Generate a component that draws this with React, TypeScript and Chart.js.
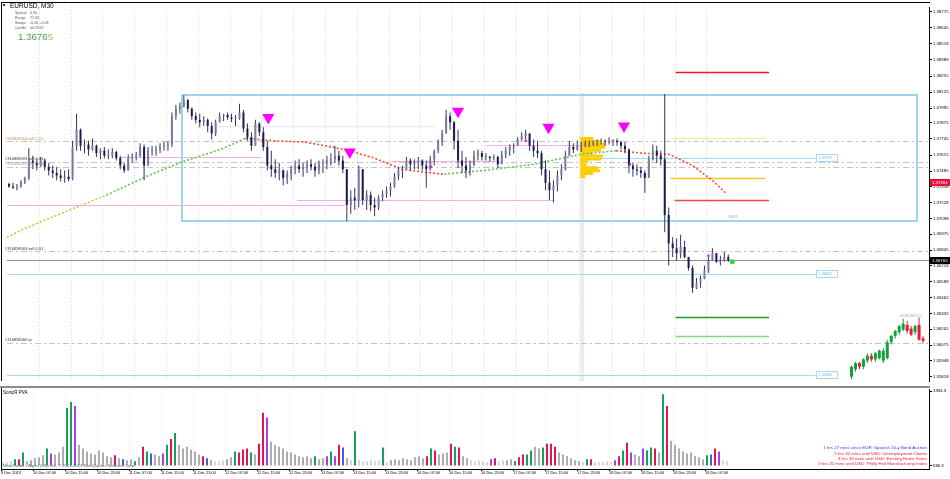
import React, { useEffect, useRef } from 'react';
import { Chart, registerables } from 'chart.js';

Chart.register(...registerables);

const FONT = '"Liberation Sans", Arial, sans-serif';

// ---------------- data ----------------
const xLabels = ['9 Dec 2013', '10 Dec 07:00', '10 Dec 15:00', '10 Dec 23:00', '11 Dec 07:00', '11 Dec 15:00', '11 Dec 23:00', '12 Dec 07:00', '12 Dec 15:00', '12 Dec 23:00', '13 Dec 07:00', '13 Dec 15:00', '13 Dec 23:00', '16 Dec 07:00', '16 Dec 15:00', '16 Dec 23:00', '17 Dec 07:00', '17 Dec 15:00', '17 Dec 23:00', '18 Dec 07:00', '18 Dec 15:00', '18 Dec 23:00', '19 Dec 07:00'];
const xLabelHours = [0, 8, 16, 24, 32, 40, 48, 56, 64, 72, 80, 88, 96, 104, 112, 120, 128, 136, 144, 152, 160, 168, 176];

const priceTicks = [1.38775, 1.38645, 1.38518, 1.38388, 1.38255, 1.38125, 1.37995, 1.37875, 1.37745, 1.37615, 1.37485, 1.37358, 1.37228, 1.37098, 1.36975, 1.36845, 1.36718, 1.36588, 1.36462, 1.36332, 1.36205, 1.36075, 1.35948, 1.35818];
const PRICE_MAX = 1.38814;
const PRICE_MIN = 1.35785;

const firstOpen = 1.3738;
const candleHigh = [
  1.3739, 1.3739, 1.3738, 1.3741, 1.3744, 1.3767, 1.3761, 1.3758, 1.3760, 1.3759,
  1.3755, 1.3753, 1.3752, 1.3750, 1.3749, 1.3750, 1.3773, 1.3795, 1.3783, 1.3774,
  1.3773, 1.3775, 1.3770, 1.3767, 1.3768, 1.3766, 1.3767, 1.3765, 1.3761, 1.3755,
  1.3762, 1.3763, 1.3764, 1.3771, 1.3770, 1.3768, 1.3769, 1.3769, 1.3771, 1.3772,
  1.3773, 1.3796, 1.3802, 1.3804, 1.3810, 1.3807, 1.3800, 1.3796, 1.3795, 1.3793,
  1.3791, 1.3788, 1.3790, 1.3796, 1.3795, 1.3796, 1.3795, 1.3794, 1.3803, 1.3798,
  1.3787, 1.3780, 1.3790, 1.3788, 1.3784, 1.3773, 1.3765, 1.3758, 1.3755, 1.3750,
  1.3749, 1.3753, 1.3757, 1.3758, 1.3755, 1.3757, 1.3758, 1.3755, 1.3757, 1.3758,
  1.3761, 1.3763, 1.3769, 1.3765, 1.3761, 1.3750, 1.3733, 1.3735, 1.3753, 1.3750,
  1.3733, 1.3732, 1.3727, 1.3729, 1.3733, 1.3736, 1.3739, 1.3747, 1.3752, 1.3753,
  1.3760, 1.3759, 1.3758, 1.3760, 1.3758, 1.3757, 1.3761, 1.3766, 1.3774, 1.3782,
  1.3798, 1.3796, 1.3789, 1.3782, 1.3765, 1.3760, 1.3757, 1.3765, 1.3766, 1.3765,
  1.3763, 1.3761, 1.3762, 1.3761, 1.3765, 1.3768, 1.3770, 1.3771, 1.3776, 1.3780,
  1.3782, 1.3779, 1.3774, 1.3773, 1.3765, 1.3757, 1.3749, 1.3741, 1.3749, 1.3754,
  1.3765, 1.3773, 1.3771, 1.3773, 1.3772, 1.3773, 1.3773, 1.3773, 1.3774, 1.3775,
  1.3774, 1.3776, 1.3774, 1.3775, 1.3773, 1.3772, 1.3767, 1.3755, 1.3754, 1.3752,
  1.3749, 1.3761, 1.3770, 1.3769, 1.3765, 1.3811, 1.3719, 1.3695, 1.3694, 1.3697,
  1.3692, 1.3679, 1.3672, 1.3662, 1.3664, 1.3672, 1.3679, 1.3686, 1.3682, 1.3680,
  1.3683, 1.3681,
];
const candleLow = [
  1.3735, 1.3734, 1.3733, 1.3735, 1.3738, 1.3741, 1.3750, 1.3749, 1.3752, 1.3749,
  1.3745, 1.3743, 1.3741, 1.3740, 1.3739, 1.3740, 1.3741, 1.3765, 1.3765, 1.3763,
  1.3761, 1.3765, 1.3760, 1.3758, 1.3759, 1.3758, 1.3759, 1.3757, 1.3750, 1.3747,
  1.3749, 1.3755, 1.3757, 1.3760, 1.3741, 1.3753, 1.3761, 1.3761, 1.3763, 1.3765,
  1.3765, 1.3768, 1.3790, 1.3795, 1.3800, 1.3796, 1.3790, 1.3787, 1.3784, 1.3785,
  1.3780, 1.3774, 1.3777, 1.3788, 1.3789, 1.3790, 1.3788, 1.3785, 1.3790, 1.3780,
  1.3773, 1.3765, 1.3769, 1.3777, 1.3765, 1.3749, 1.3744, 1.3743, 1.3741, 1.3737,
  1.3738, 1.3741, 1.3746, 1.3747, 1.3744, 1.3747, 1.3749, 1.3744, 1.3746, 1.3747,
  1.3750, 1.3753, 1.3755, 1.3753, 1.3747, 1.3708, 1.3714, 1.3717, 1.3719, 1.3721,
  1.3717, 1.3716, 1.3712, 1.3717, 1.3724, 1.3727, 1.3728, 1.3735, 1.3741, 1.3743,
  1.3750, 1.3749, 1.3750, 1.3750, 1.3749, 1.3735, 1.3749, 1.3753, 1.3763, 1.3769,
  1.3779, 1.3782, 1.3766, 1.3751, 1.3747, 1.3743, 1.3745, 1.3753, 1.3757, 1.3757,
  1.3757, 1.3756, 1.3757, 1.3751, 1.3755, 1.3759, 1.3761, 1.3763, 1.3769, 1.3773,
  1.3774, 1.3765, 1.3760, 1.3759, 1.3745, 1.3733, 1.3725, 1.3723, 1.3732, 1.3741,
  1.3749, 1.3761, 1.3763, 1.3765, 1.3764, 1.3768, 1.3768, 1.3769, 1.3769, 1.3770,
  1.3769, 1.3770, 1.3769, 1.3769, 1.3766, 1.3763, 1.3747, 1.3744, 1.3745, 1.3743,
  1.3731, 1.3743, 1.3757, 1.3755, 1.3753, 1.3699, 1.3672, 1.3679, 1.3676, 1.3678,
  1.3678, 1.3668, 1.3650, 1.3653, 1.3654, 1.3661, 1.3666, 1.3676, 1.3674, 1.3672,
  1.3675, 1.3675,
];
const candleClose = [
  1.3736, 1.3735, 1.3736, 1.3740, 1.3743, 1.3757, 1.3755, 1.3753, 1.3757, 1.3752,
  1.3749, 1.3747, 1.3745, 1.3743, 1.3744, 1.3742, 1.3768, 1.3782, 1.3769, 1.3770,
  1.3766, 1.3769, 1.3763, 1.3765, 1.3761, 1.3761, 1.3764, 1.3759, 1.3753, 1.3749,
  1.3759, 1.3760, 1.3761, 1.3768, 1.3753, 1.3765, 1.3765, 1.3766, 1.3768, 1.3769,
  1.3770, 1.3793, 1.3799, 1.3801, 1.3806, 1.3799, 1.3793, 1.3790, 1.3788, 1.3790,
  1.3785, 1.3779, 1.3788, 1.3793, 1.3794, 1.3792, 1.3791, 1.3791, 1.3796, 1.3783,
  1.3776, 1.3769, 1.3787, 1.3780, 1.3768, 1.3753, 1.3750, 1.3747, 1.3749, 1.3743,
  1.3746, 1.3750, 1.3753, 1.3750, 1.3752, 1.3754, 1.3752, 1.3749, 1.3754, 1.3755,
  1.3757, 1.3758, 1.3761, 1.3757, 1.3750, 1.3721, 1.3727, 1.3725, 1.3750, 1.3725,
  1.3729, 1.3721, 1.3719, 1.3727, 1.3730, 1.3733, 1.3736, 1.3744, 1.3749, 1.3750,
  1.3757, 1.3754, 1.3755, 1.3757, 1.3753, 1.3750, 1.3758, 1.3765, 1.3773, 1.3779,
  1.3793, 1.3788, 1.3773, 1.3757, 1.3753, 1.3749, 1.3753, 1.3761, 1.3763, 1.3760,
  1.3760, 1.3759, 1.3760, 1.3754, 1.3762, 1.3765, 1.3768, 1.3769, 1.3774, 1.3777,
  1.3779, 1.3769, 1.3765, 1.3763, 1.3750, 1.3739, 1.3733, 1.3737, 1.3745, 1.3750,
  1.3761, 1.3768, 1.3766, 1.3769, 1.3769, 1.3770, 1.3771, 1.3772, 1.3773, 1.3773,
  1.3772, 1.3773, 1.3773, 1.3772, 1.3769, 1.3766, 1.3753, 1.3750, 1.3749, 1.3747,
  1.3743, 1.3758, 1.3765, 1.3761, 1.3758, 1.3713, 1.3690, 1.3686, 1.3682, 1.3687,
  1.3679, 1.3670, 1.3654, 1.3658, 1.3661, 1.3668, 1.3676, 1.3682, 1.3675, 1.3676,
  1.3679, 1.3676,
];

const volumeValues = [
  72, 72, 90, 126, 126, 252, 90, 108, 144, 162,
  198, 324, 234, 216, 252, 360, 1080, 1188, 1116, 396,
  324, 270, 234, 216, 288, 252, 180, 162, 198, 144,
  126, 108, 126, 90, 162, 360, 270, 234, 216, 180,
  234, 396, 504, 612, 396, 324, 360, 306, 270, 216,
  180, 144, 108, 90, 90, 108, 126, 162, 270, 252,
  306, 324, 252, 216, 414, 990, 900, 450, 396, 360,
  324, 270, 252, 216, 180, 162, 180, 144, 180, 126,
  144, 180, 270, 180, 396, 342, 144, 108, 648, 108,
  90, 90, 108, 90, 108, 342, 72, 108, 126, 108,
  144, 126, 108, 162, 180, 144, 180, 324, 288, 216,
  234, 252, 414, 360, 342, 180, 144, 108, 90, 108,
  90, 72, 126, 144, 90, 108, 108, 126, 90, 162,
  216, 216, 288, 360, 324, 342, 414, 414, 360, 252,
  216, 180, 144, 108, 90, 72, 126, 126, 72, 72,
  72, 90, 72, 108, 180, 288, 432, 252, 216, 180,
  324, 288, 342, 324, 252, 1332, 1116, 468, 396, 324,
  270, 234, 252, 180, 162, 126, 198, 216, 324, 270,
  108, 90,
];
// l = low volume, g = average, G = climax bull, R = climax bear, B = rising bull, P = rising bear
const volumeClass = (
  'lllGRGgggg' + 'gGPgggGGPg' + 'ggggggggRg' + 'BggGgRGBgg' + 'PGRGgggggg' +
  'RBglllggGR' + 'RRGgRRPggg' + 'ggggggggGg' + 'gPGPRBglGl' + 'lllllGlggg' +
  'ggggggRGRg' + 'ggRGRgglll' + 'llPRllggGR' + 'RGGggGRRRg' + 'ggggglGRll' +
  'lllPRGRPgg' + 'PGGRgGRggg' + 'ggggggGBRP' + 'll'
).split('');
const volAxisTicks = [1394.3, 0];
const volAxisLabels = ['1394.3', '696.3'];

const maBars = [0, 4.5, 15, 25, 35, 45, 53.75, 60, 67.5, 75, 85, 92.5, 99.25, 106.75, 110, 120, 132.5, 144.25, 153.25, 160, 166.75, 172.5, 177.5, 180.75];
const maValues = [1.3695, 1.3702, 1.3716, 1.3729, 1.3744, 1.3757, 1.3766, 1.3775, 1.3773, 1.3772, 1.3766, 1.3759, 1.3750, 1.3747, 1.3746, 1.3749, 1.3754, 1.3762, 1.3765, 1.3763, 1.3762, 1.3753, 1.3741, 1.3731];

const arrowBars = [65.75, 86.25, 113.5, 136.25, 155.25];
const arrowPrices = [1.3792, 1.3764, 1.3797, 1.3784, 1.3785];
const dotBars = [106.75, 130.5, 156.75, 176.5];
const dotPrices = [1.3752, 1.3773, 1.3754, 1.3680];
const lastTickBar = 182.5;
const lastTickPrice = 1.3675;

const miniBars = [212, 213, 214, 215, 216, 217, 218, 219, 220, 221, 222, 223, 224, 225, 226, 227, 228, 229, 230];
const miniOpen = [1.3582, 1.3588, 1.3593, 1.3590, 1.3595, 1.3599, 1.3596, 1.3597, 1.3595, 1.3597, 1.3610, 1.3615, 1.3618, 1.3620, 1.3624, 1.3621, 1.3618, 1.3624, 1.3613];
const miniClose = [1.3590, 1.3593, 1.3590, 1.3596, 1.3599, 1.3596, 1.3601, 1.3603, 1.3603, 1.3610, 1.3615, 1.3619, 1.3623, 1.3625, 1.3619, 1.3616, 1.3623, 1.3612, 1.3611];
const miniHigh = [1.3591, 1.3594, 1.3594, 1.3597, 1.3601, 1.3601, 1.3602, 1.3604, 1.3605, 1.3612, 1.3616, 1.3620, 1.3624, 1.3629, 1.3627, 1.3623, 1.3624, 1.3630, 1.3615];
const miniLow = [1.3580, 1.3586, 1.3588, 1.3588, 1.3593, 1.3594, 1.3594, 1.3596, 1.3593, 1.3596, 1.3608, 1.3613, 1.3616, 1.3619, 1.3617, 1.3615, 1.3616, 1.3611, 1.3609];
const miniLabel = { bar: 224.75, price: 1.3631, text: 'EURUSD,D1' };

const rangeBoxBars = [44, 229];
const rangeBoxPrices = [1.3810, 1.3708];

const targetPrices = [1.3829, 1.3775, 1.3743, 1.3725, 1.3630, 1.3615];
const targetFrom = [168.25, 167, 167, 168, 168.25, 168.25];
const targetTo = [191.75, 190.75, 190.75, 191.75, 191.75, 191.75];
const targetKinds = ['stopHigh', 'zoneHigh', 'zoneMid', 'stopLow', 'tp1', 'tp2'];

const orderPrices = [1.37725, 1.3756, 1.3752, 1.36834, 1.36092];
const orderLabels = ['#316858063 sell 0.01', '#316858093 sell 0.01', '#316858090 sell 0.01', '#316858063 sell 0.01', '#316858060 tp'];

const srPrices = [1.37852, 1.37599, 1.37568, 1.37694, 1.37252, 1.37213];
const srFrom = [53, 28.25, 96.75, 120.5, 73, 0];
const srTo = [107.5, 64, 123.25, 150, 137.5, 85];
const srKinds = ['minor', 'major', 'major', 'major', 'major', 'major'];

const pivotPrices = [1.37591, 1.36652, 1.35832];
const pivotFrom = [144.25, 0, 0];
const pivotTo = 203.5;

const profileStart = 144.25;
const profileLevels = [1.37749, 1.37725, 1.37702, 1.37678, 1.37654, 1.37631, 1.37607, 1.37583, 1.3756, 1.37536, 1.37512, 1.37489, 1.37465, 1.37441];
const profileVolumes = [13, 21, 25, 25, 21, 13, 23, 21, 8, 6, 18, 20, 13, 5];

const bidPrice = 1.36765;
const alertPrice = 1.37394;
const sessionLabel = { bar: 181.5, price: 1.3711, text: '18:41' };

const infoLabels = ['Spread', 'Range', 'Swaps', 'Candle'];
const infoValues = ['0.90', '77.45', '-0.20, -0.28', '00:23:07'];

const newsLines = ['1 hrs 27 mins since EUR: Spanish 10-y Bond Auction', '2 hrs 32 mins until USD: Unemployment Claims', '3 hrs 32 mins until USD: Existing Home Sales', '3 hrs 32 mins until USD: Philly Fed Manufacturing Index'];
const newsPast = [true, false, false, false];

// ---------------- styles ----------------
const UP = '#7c7c9c';
const DOWN = '#1b1b4c';
const WICK = '#33335f';
const VOL_COLORS: any = { l: '#d6d6d6', g: '#adadad', G: '#17a05a', R: '#e3154e', B: '#3f5fe0', P: '#a53ff0' };
const TARGET_COLORS: any = { stopHigh: '#ee1c1c', zoneHigh: '#f3eab0', zoneMid: '#f5c518', stopLow: '#f04646', tp1: '#1e9e1e', tp2: '#86d486' };

const opens = candleClose.map((c, i) => (i === 0 ? firstOpen : candleClose[i - 1]));
const candleColors = candleClose.map((c, i) => (c >= opens[i] ? UP : DOWN));
const miniColors = miniClose.map((c, i) => (c >= miniOpen[i] ? '#13a03c' : '#e8183c'));

const maColor = (ctx: any) => {
  const dx = ctx.p1.parsed.x - ctx.p0.parsed.x;
  const r = (ctx.p1.parsed.y - ctx.p0.parsed.y) / dx;
  if (r > 0.00001) return ctx.p0.parsed.x < 20 ? '#b2d030' : '#5cc84a';
  if (r < -0.00001) return '#ff4a2a';
  return '#c8c8c8';
};

function hLine(ctx: any, x0: number, x1: number, y: number) {
  const yy = Math.round(y) + 0.5;
  ctx.beginPath();
  ctx.moveTo(x0, yy);
  ctx.lineTo(x1, yy);
  ctx.stroke();
}

const mainDecor = {
  id: 'mainDecor',
  beforeDatasetsDraw(chart: any) {
    const { ctx, chartArea: a, scales } = chart;
    const X = (v: number) => scales.x.getPixelForValue(v);
    const Y = (v: number) => scales.y.getPixelForValue(v);
    ctx.save();
    ctx.beginPath();
    ctx.rect(a.left, a.top, a.right - a.left, a.bottom - a.top);
    ctx.clip();

    // vertical dotted grid
    ctx.strokeStyle = '#dadada';
    ctx.lineWidth = 1;
    ctx.setLineDash([1, 2]);
    xLabelHours.forEach((h, i) => {
      if (i === 0) return;
      const px = Math.round(X(h)) + 0.5;
      ctx.beginPath();
      ctx.moveTo(px, a.top);
      ctx.lineTo(px, a.bottom);
      ctx.stroke();
    });
    ctx.setLineDash([]);

    // profile band
    ctx.fillStyle = '#ececec';
    ctx.fillRect(X(profileStart), Y(1.3812), 4, a.bottom - Y(1.3812));

    // order lines (dash-dot)
    ctx.strokeStyle = '#c4c4c4';
    ctx.setLineDash([6, 3, 2, 3]);
    orderPrices.forEach((p) => hLine(ctx, a.left, a.right, Y(p)));
    ctx.setLineDash([]);

    // support/resistance pink
    srPrices.forEach((p, i) => {
      ctx.strokeStyle = srKinds[i] === 'minor' ? '#f9dcf3' : '#f2aeea';
      hLine(ctx, X(srFrom[i]), X(srTo[i]), Y(p));
    });

    // pivot light blue
    ctx.strokeStyle = '#a8d8f0';
    pivotPrices.forEach((p, i) => hLine(ctx, X(pivotFrom[i]), X(pivotTo), Y(p)));

    // bid line
    ctx.strokeStyle = '#8c8c8c';
    hLine(ctx, a.left, a.right, Y(bidPrice));

    // range box
    ctx.strokeStyle = '#9fd3ef';
    ctx.lineWidth = 2;
    const bx0 = X(rangeBoxBars[0]);
    const bx1 = X(rangeBoxBars[1]);
    const by0 = Y(rangeBoxPrices[0]);
    const by1 = Y(rangeBoxPrices[1]);
    ctx.strokeRect(Math.round(bx0), Math.round(by0), Math.round(bx1 - bx0), Math.round(by1 - by0));
    ctx.lineWidth = 1;

    // target lines
    targetPrices.forEach((p, i) => {
      ctx.strokeStyle = TARGET_COLORS[targetKinds[i]];
      ctx.lineWidth = 1.6;
      ctx.beginPath();
      ctx.moveTo(X(targetFrom[i]), Math.round(Y(p)) + 0.5);
      ctx.lineTo(X(targetTo[i]), Math.round(Y(p)) + 0.5);
      ctx.stroke();
    });
    ctx.lineWidth = 1;

    // volume profile
    ctx.fillStyle = '#ffcc00';
    profileLevels.forEach((lv, i) => {
      const y0 = Y(lv + 0.000119);
      const y1 = Y(lv - 0.000119);
      const x0 = X(profileStart);
      const x1 = X(profileStart + profileVolumes[i] / 4);
      ctx.fillRect(x0, y0, x1 - x0, y1 - y0);
    });
    ctx.restore();
  },
  afterDraw(chart: any) {
    const { ctx, chartArea: a, scales } = chart;
    const X = (v: number) => scales.x.getPixelForValue(v);
    const Y = (v: number) => scales.y.getPixelForValue(v);
    ctx.save();
    ctx.textBaseline = 'middle';

    // order labels
    ctx.font = `4px ${FONT}`;
    orderLabels.forEach((t, i) => {
      ctx.fillStyle = i === 0 ? '#c98a4c' : i === 2 ? '#9a9a9a' : '#303030';
      ctx.fillText(t, 5, Y(orderPrices[i]) - 3);
    });

    // pivot label boxes
    ctx.font = `3.8px ${FONT}`;
    pivotPrices.forEach((p) => {
      const x0 = Math.round(X(pivotTo)) + 0.5;
      const y = Math.round(Y(p));
      ctx.fillStyle = '#ffffff';
      ctx.fillRect(x0, y - 3.5, 21, 7);
      ctx.strokeStyle = '#a8d8f0';
      ctx.strokeRect(x0, y - 3.5, 21, 7);
      ctx.fillStyle = '#6cb4e0';
      ctx.fillText(p.toFixed(5), x0 + 2, y);
    });

    // session time label
    ctx.fillStyle = '#9a9a9a';
    ctx.fillText(sessionLabel.text, X(sessionLabel.bar), Y(sessionLabel.price));
    ctx.fillStyle = '#a8a8a8';
    ctx.fillText(miniLabel.text, X(miniLabel.bar), Y(miniLabel.price));

    // top-left info
    ctx.fillStyle = '#333';
    ctx.fillRect(3, 4, 2, 2);
    ctx.font = `6.5px ${FONT}`;
    ctx.fillStyle = '#000';
    ctx.fillText('EURUSD, M30', 10, 6.5);
    ctx.font = `3.6px ${FONT}`;
    ctx.fillStyle = '#555';
    infoLabels.forEach((t, i) => {
      ctx.fillText(t, 15, 13 + 5 * i);
      ctx.fillText(infoValues[i], 30, 13 + 5 * i);
    });
    const bidText = bidPrice.toFixed(5);
    ctx.font = `9.7px ${FONT}`;
    ctx.fillStyle = '#47a447';
    const head = bidText.slice(0, -1);
    ctx.fillText(head, 18, 37.5);
    const w = ctx.measureText(head).width;
    ctx.fillStyle = '#8fcf6f';
    ctx.fillText(bidText.slice(-1), 18 + w, 37.5);

    // axis price boxes
    ctx.font = `4.3px ${FONT}`;
    const boxes = [
      { p: alertPrice, bg: '#e8103c' },
      { p: bidPrice, bg: '#000000' },
    ];
    boxes.forEach((b) => {
      const y = Math.round(Y(b.p));
      ctx.fillStyle = b.bg;
      ctx.fillRect(930, y - 3, 20, 7);
      ctx.fillStyle = '#ffffff';
      ctx.fillText(b.p.toFixed(5), 932, y + 0.5);
    });

    // frame
    ctx.fillStyle = '#000';
    ctx.fillRect(1, 2, 1, a.bottom - 2);
    ctx.fillRect(1, 2, 929, 1);
    ctx.fillStyle = '#8c8c8c';
    ctx.fillRect(0, 386, 930, 2);
    ctx.restore();
  },
};

const volDecor = {
  id: 'volDecor',
  beforeDatasetsDraw(chart: any) {
    const { ctx, chartArea: a, scales } = chart;
    const X = (v: number) => scales.x.getPixelForValue(v);
    ctx.save();
    ctx.strokeStyle = '#e2e2e2';
    ctx.setLineDash([1, 2]);
    xLabelHours.forEach((h, i) => {
      if (i === 0) return;
      const px = Math.round(X(h)) + 0.5;
      ctx.beginPath();
      ctx.moveTo(px, a.top);
      ctx.lineTo(px, a.bottom);
      ctx.stroke();
    });
    ctx.restore();
  },
  afterDraw(chart: any) {
    const { ctx, chartArea: a } = chart;
    ctx.save();
    ctx.textBaseline = 'middle';
    ctx.font = `4.5px ${FONT}`;
    ctx.fillStyle = '#000';
    ctx.fillText('SonicR PVA', 3, 4.5);
    ctx.font = `4.4px ${FONT}`;
    ctx.textAlign = 'right';
    newsLines.forEach((t, i) => {
      ctx.fillStyle = newsPast[i] ? '#3535f0' : '#f0163a';
      ctx.fillText(t, 927, 60 + 5.4 * i);
    });
    ctx.textAlign = 'left';
    ctx.font = `4.2px ${FONT}`;
    ctx.fillStyle = '#5a6478';
    ctx.fillText('MetaTrader - Alpari (UK) Ltd, \u00a9 2001-2013 MetaQuotes Software Corp.', 3, 77.5);
    ctx.fillStyle = '#000';
    ctx.fillRect(1, 0, 1, a.bottom);
    ctx.restore();
  },
};

function mainConfig(): any {
  return {
    type: 'bar',
    data: {
      datasets: [
        {
          type: 'line',
          data: maBars.map((b, i) => ({ x: b, y: maValues[i] })),
          borderColor: '#c8c8c8',
          borderWidth: 1.6,
          borderDash: [2, 2],
          pointRadius: 0,
          segment: { borderColor: maColor },
          order: 10,
        },
        {
          type: 'bar',
          data: candleHigh.map((h, i) => ({ x: i + 0.5, y: [candleLow[i], h] })),
          backgroundColor: WICK,
          barThickness: 1,
          inflateAmount: 0,
          grouped: false,
          order: 6,
        },
        {
          type: 'bar',
          data: opens.map((o, i) => ({ x: i + 0.5, y: [o, candleClose[i]] })),
          backgroundColor: candleColors,
          barThickness: 2,
          minBarLength: 1,
          inflateAmount: 0,
          grouped: false,
          order: 5,
        },
        {
          type: 'bar',
          data: miniBars.map((b, i) => ({ x: b + 0.5, y: [miniLow[i], miniHigh[i]] })),
          backgroundColor: miniColors,
          barThickness: 1,
          inflateAmount: 0,
          grouped: false,
          order: 6,
        },
        {
          type: 'bar',
          data: miniBars.map((b, i) => ({ x: b + 0.5, y: [miniOpen[i], miniClose[i]] })),
          backgroundColor: miniColors,
          barThickness: 3,
          minBarLength: 1,
          inflateAmount: 0,
          grouped: false,
          order: 5,
        },
        {
          type: 'scatter',
          data: arrowBars.map((b, i) => ({ x: b, y: arrowPrices[i] })),
          pointStyle: 'triangle',
          rotation: 180,
          pointRadius: 7,
          backgroundColor: '#ff00ff',
          borderWidth: 0,
          order: 1,
        },
        {
          type: 'scatter',
          data: dotBars.map((b, i) => ({ x: b, y: dotPrices[i] })),
          pointStyle: 'rect',
          pointRadius: 1.6,
          backgroundColor: '#ff00ff',
          borderWidth: 0,
          order: 1,
        },
        {
          type: 'scatter',
          data: [{ x: lastTickBar, y: lastTickPrice }],
          pointStyle: 'circle',
          pointRadius: 2.5,
          backgroundColor: '#22dd44',
          borderWidth: 0,
          order: 1,
        },
      ],
    },
    options: {
      responsive: false,
      animation: false,
      events: [],
      layout: { padding: { left: 1, top: 2, right: 0, bottom: 2 } },
      plugins: { legend: { display: false }, tooltip: { enabled: false } },
      scales: {
        x: { type: 'linear', min: 0, max: 232, display: false, offset: false, grid: { offset: false } },
        y: {
          type: 'linear',
          position: 'right',
          min: PRICE_MIN,
          max: PRICE_MAX,
          afterBuildTicks: (s: any) => {
            s.ticks = priceTicks.map((v) => ({ value: v }));
          },
          afterFit: (s: any) => {
            s.width = 21;
            s.paddingTop = 0;
            s.paddingBottom = 0;
          },
          ticks: {
            autoSkip: false,
            padding: 1,
            color: '#000',
            font: { size: 4.3, family: FONT },
            callback: (v: any) => Number(v).toFixed(5),
          },
          grid: { drawOnChartArea: false, drawTicks: true, tickLength: 3, color: '#000' },
          border: { display: true, color: '#000' },
        },
      },
    },
    plugins: [mainDecor],
  };
}

function volConfig(): any {
  return {
    type: 'bar',
    data: {
      datasets: [
        {
          data: volumeValues.map((v, i) => ({ x: i + 0.5, y: v })),
          backgroundColor: volumeClass.map((c) => VOL_COLORS[c]),
          barThickness: 2,
          inflateAmount: 0,
          grouped: false,
        },
      ],
    },
    options: {
      responsive: false,
      animation: false,
      events: [],
      layout: { padding: { left: 1, top: 1, right: 0, bottom: 0 } },
      plugins: { legend: { display: false }, tooltip: { enabled: false } },
      scales: {
        x: {
          type: 'linear',
          min: 0,
          max: 232,
          offset: false,
          position: 'bottom',
          afterBuildTicks: (s: any) => {
            s.ticks = xLabelHours.map((v) => ({ value: v }));
          },
          afterFit: (s: any) => {
            s.height = 10;
            s.paddingLeft = 0;
            s.paddingRight = 0;
          },
          ticks: {
            autoSkip: false,
            maxRotation: 0,
            minRotation: 0,
            align: 'start',
            padding: 0,
            color: '#000',
            font: { size: 3.9, family: FONT },
            callback: (v: any, i: number) => xLabels[i],
          },
          grid: { drawOnChartArea: false, drawTicks: true, tickLength: 2, color: '#000', offset: false },
          border: { display: true, color: '#000' },
        },
        y: {
          type: 'linear',
          position: 'right',
          min: -55.8,
          max: 1431.5,
          afterBuildTicks: (s: any) => {
            s.ticks = volAxisTicks.map((v) => ({ value: v }));
          },
          afterFit: (s: any) => {
            s.width = 21;
            s.paddingTop = 0;
            s.paddingBottom = 0;
          },
          ticks: {
            autoSkip: false,
            padding: 1,
            color: '#000',
            font: { size: 4.3, family: FONT },
            callback: (v: any, i: number) => volAxisLabels[i],
          },
          grid: { drawOnChartArea: false, drawTicks: true, tickLength: 3, color: '#000' },
          border: { display: true, color: '#000' },
        },
      },
    },
    plugins: [volDecor],
  };
}

export default function App() {
  const mainRef = useRef<HTMLCanvasElement>(null);
  const volRef = useRef<HTMLCanvasElement>(null);
  useEffect(() => {
    const main = new Chart(mainRef.current as HTMLCanvasElement, mainConfig());
    const vol = new Chart(volRef.current as HTMLCanvasElement, volConfig());
    return () => {
      main.destroy();
      vol.destroy();
    };
  }, []);
  return (
    <div style={{ position: 'fixed', left: 0, top: 0, width: 950, height: 479, background: '#ffffff' }}>
      <canvas ref={mainRef} width={950} height={388} style={{ position: 'absolute', left: 0, top: 0, width: 950, height: 388 }} />
      <canvas ref={volRef} width={950} height={91} style={{ position: 'absolute', left: 0, top: 388, width: 950, height: 91 }} />
    </div>
  );
}
